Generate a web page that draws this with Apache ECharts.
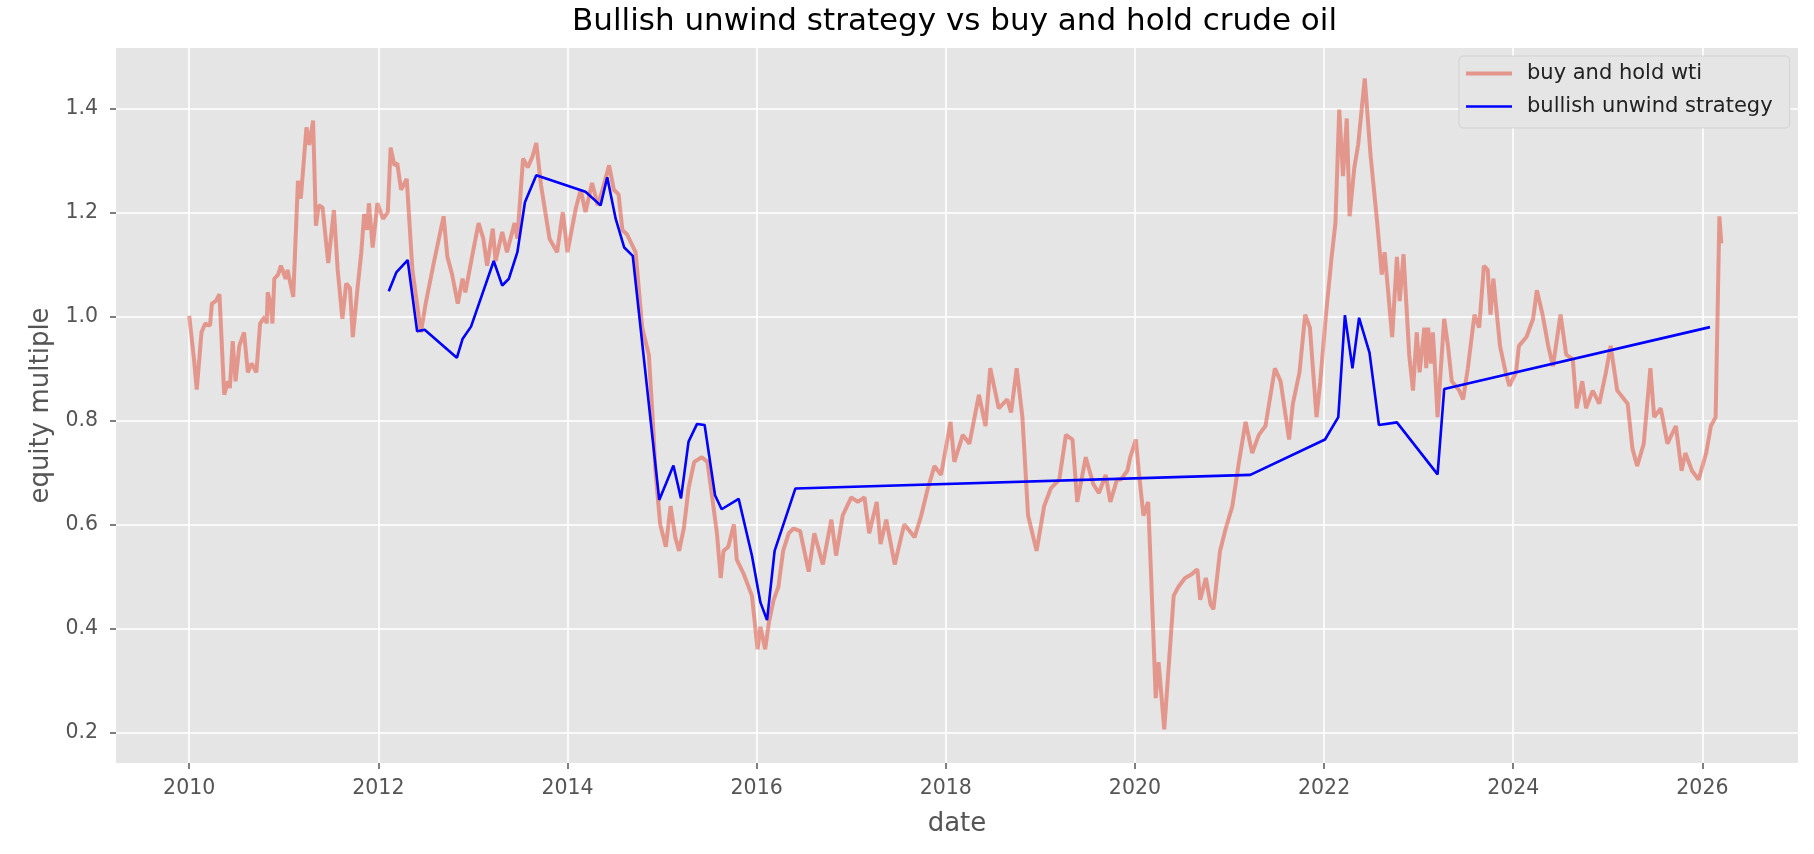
<!DOCTYPE html>
<html>
<head>
<meta charset="utf-8">
<script src="https://cdn.jsdelivr.net/npm/echarts@6/dist/echarts.min.js"></script>
<style>
html,body{margin:0;padding:0;background:#fff;}
#chart{width:1814px;height:854px;}
</style>
</head>
<body>
<div id="chart"></div>
<script>
// x values are decimal years (date axis)
const wtiYears = [
2010.00,2010.05,2010.08,2010.13,2010.17,2010.22,2010.24,2010.28,2010.32,2010.37,2010.41,2010.43,2010.46,2010.49,2010.53,2010.58,2010.62,2010.66,2010.71,2010.75,
2010.80,2010.82,2010.83,2010.86,2010.88,2010.90,2010.94,2010.97,2011.02,2011.04,2011.10,2011.15,2011.18,2011.24,2011.27,2011.31,2011.34,2011.37,2011.41,2011.47,
2011.53,2011.57,2011.62,2011.66,2011.70,2011.73,2011.78,2011.82,2011.85,2011.88,2011.90,2011.94,2011.99,2012.05,2012.10,2012.13,2012.17,2012.20,2012.24,2012.30,
2012.36,2012.45,2012.50,2012.59,2012.64,2012.69,2012.73,2012.78,2012.84,2012.89,2012.92,2013.00,2013.06,2013.11,2013.15,2013.21,2013.24,2013.31,2013.36,2013.44,
2013.47,2013.53,2013.58,2013.63,2013.67,2013.72,2013.81,2013.89,2013.95,2014.00,2014.09,2014.14,2014.19,2014.26,2014.32,2014.37,2014.44,2014.49,2014.54,2014.58,
2014.63,2014.72,2014.79,2014.86,2014.90,2014.93,2014.98,2015.04,2015.09,2015.14,2015.18,2015.23,2015.28,2015.34,2015.42,2015.48,2015.53,2015.58,2015.62,2015.65,
2015.70,2015.76,2015.79,2015.86,2015.95,2016.01,2016.04,2016.09,2016.13,2016.18,2016.23,2016.28,2016.34,2016.39,2016.46,2016.55,2016.61,2016.70,2016.79,2016.84,
2016.91,2017.00,2017.07,2017.14,2017.19,2017.27,2017.31,2017.37,2017.46,2017.56,2017.67,2017.74,2017.81,2017.88,2017.95,2018.05,2018.09,2018.18,2018.25,2018.35,
2018.42,2018.47,2018.56,2018.65,2018.69,2018.75,2018.81,2018.87,2018.96,2019.04,2019.11,2019.20,2019.27,2019.34,2019.39,2019.48,2019.56,2019.62,2019.69,2019.74,
2019.81,2019.85,2019.92,2019.95,2020.01,2020.04,2020.09,2020.14,2020.17,2020.22,2020.25,2020.31,2020.36,2020.41,2020.46,2020.53,2020.60,2020.66,2020.69,2020.75,
2020.80,2020.83,2020.90,2020.96,2021.03,2021.10,2021.17,2021.24,2021.31,2021.38,2021.48,2021.54,2021.63,2021.67,2021.74,2021.80,2021.85,2021.92,2021.96,2022.02,
2022.08,2022.12,2022.16,2022.20,2022.24,2022.27,2022.32,2022.36,2022.43,2022.49,2022.56,2022.61,2022.64,2022.72,2022.77,2022.80,2022.84,2022.90,2022.94,2022.98,
2023.01,2023.06,2023.08,2023.10,2023.13,2023.15,2023.17,2023.20,2023.27,2023.31,2023.35,2023.43,2023.47,2023.52,2023.59,2023.64,2023.69,2023.73,2023.76,2023.79,
2023.86,2023.92,2023.96,2024.03,2024.06,2024.14,2024.21,2024.25,2024.31,2024.37,2024.42,2024.50,2024.56,2024.63,2024.67,2024.73,2024.77,2024.84,2024.91,2024.98,
2025.03,2025.10,2025.21,2025.26,2025.31,2025.38,2025.45,2025.49,2025.56,2025.63,2025.72,2025.78,2025.82,2025.89,2025.96,2026.04,2026.09,2026.14,2026.18,2026.20
];
const wtiValues = [
1.002,0.920,0.860,0.970,0.987,0.983,1.025,1.030,1.043,0.850,0.876,0.863,0.953,0.876,0.944,0.970,0.893,0.910,0.893,0.987,
1.000,0.987,1.047,1.025,0.987,1.073,1.081,1.098,1.073,1.090,1.038,1.261,1.227,1.364,1.330,1.377,1.175,1.214,1.210,1.103,
1.205,1.090,0.996,1.064,1.055,0.961,1.055,1.124,1.197,1.167,1.218,1.133,1.218,1.188,1.201,1.325,1.291,1.295,1.244,1.265,
1.090,0.970,1.025,1.107,1.150,1.193,1.115,1.081,1.025,1.073,1.047,1.124,1.180,1.150,1.098,1.169,1.107,1.163,1.124,1.180,
1.150,1.304,1.287,1.308,1.334,1.253,1.150,1.124,1.201,1.124,1.210,1.244,1.201,1.257,1.214,1.244,1.291,1.244,1.235,1.167,
1.158,1.124,0.979,0.927,0.807,0.704,0.601,0.558,0.636,0.576,0.550,0.593,0.670,0.721,0.730,0.721,0.653,0.584,0.498,0.550,
0.558,0.601,0.533,0.507,0.464,0.361,0.404,0.361,0.413,0.456,0.481,0.550,0.584,0.593,0.588,0.510,0.584,0.524,0.610,0.541,
0.618,0.653,0.644,0.653,0.584,0.644,0.563,0.610,0.524,0.601,0.576,0.618,0.670,0.713,0.696,0.798,0.721,0.773,0.756,0.850,
0.790,0.901,0.824,0.841,0.816,0.901,0.807,0.618,0.550,0.636,0.670,0.687,0.773,0.764,0.644,0.730,0.678,0.661,0.696,0.644,
0.687,0.687,0.704,0.730,0.764,0.704,0.618,0.644,0.507,0.267,0.336,0.207,0.336,0.464,0.481,0.498,0.505,0.515,0.456,0.498,
0.447,0.438,0.550,0.593,0.636,0.721,0.798,0.738,0.773,0.790,0.901,0.876,0.764,0.833,0.893,1.004,0.979,0.807,0.876,1.004,
1.115,1.180,1.398,1.270,1.381,1.193,1.287,1.330,1.458,1.313,1.184,1.081,1.124,0.961,1.115,1.030,1.120,0.927,0.858,0.970,
0.893,0.979,0.901,0.979,0.910,0.970,0.910,0.807,0.996,0.944,0.876,0.858,0.841,0.901,1.004,0.979,1.098,1.090,1.004,1.073,
0.944,0.893,0.867,0.893,0.944,0.961,0.996,1.051,1.004,0.944,0.905,1.004,0.927,0.918,0.824,0.876,0.824,0.858,0.833,0.893,
0.944,0.858,0.833,0.747,0.713,0.756,0.901,0.807,0.824,0.756,0.790,0.704,0.738,0.704,0.687,0.738,0.790,0.807,1.193,1.141
];
const stratYears = [
2012.11,2012.19,2012.31,2012.41,2012.49,2012.83,2012.89,2012.98,2013.22,2013.31,2013.38,2013.47,2013.55,2013.67,2014.19,2014.35,2014.42,2014.51,2014.60,2014.69,
2014.97,2015.12,2015.20,2015.28,2015.37,2015.45,2015.56,2015.63,2015.81,2015.95,2016.04,2016.11,2016.19,2016.41,2021.22,2022.01,2022.15,2022.22,2022.30,2022.37,
2022.48,2022.58,2022.77,2023.20,2023.27,2026.08
];
const stratValues = [
1.049,1.085,1.109,0.972,0.975,0.921,0.957,0.981,1.107,1.060,1.073,1.124,1.220,1.272,1.240,1.214,1.268,1.188,1.133,1.117,
0.648,0.714,0.651,0.760,0.794,0.792,0.657,0.630,0.650,0.541,0.451,0.417,0.550,0.670,0.696,0.764,0.807,1.003,0.901,0.998,
0.931,0.792,0.797,0.697,0.861,0.980
];
const xTickYears = [2010,2012,2014,2016,2018,2020,2022,2024,2026];
const yTickValues = [0.2,0.4,0.6,0.8,1.0,1.2,1.4];
const seriesNames = ['buy and hold wti','bullish unwind strategy'];
const titleText = 'Bullish unwind strategy vs buy and hold crude oil';

const FONT = 'DejaVu Sans';
// legend line icons (thin band inside a 46x20 box; tiny corner specks fix the box)
const iconThick = 'path://M0,0h0.01v0.01h-0.01z M0,8h46v4h-46z M45.99,19.99h0.01v0.01h-0.01z';
const iconThin = 'path://M0,0h0.01v0.01h-0.01z M0,8.7h46v2.6h-46z M45.99,19.99h0.01v0.01h-0.01z';

const chart = echarts.init(document.getElementById('chart'), null, {renderer:'canvas'});
chart.setOption({
  animation: false,
  backgroundColor: '#ffffff',
  textStyle: {fontFamily: FONT},
  title: {
    text: titleText, left: 572, top: 6, padding: 0,
    textStyle: {fontFamily: FONT, fontSize: 31, fontWeight: 'normal', color: '#000'}
  },
  legend: {
    orient: 'vertical', left: 1459, top: 56,
    padding: [7, 17, 11, 7],
    itemWidth: 46, itemHeight: 20, itemGap: 12,
    backgroundColor: '#E5E5E5', borderColor: 'rgba(204,204,204,0.7)', borderWidth: 1, borderRadius: 4,
    textStyle: {fontFamily: FONT, fontSize: 21, color: '#222', padding: [0,0,0,10]},
    data: [
      {name: seriesNames[0], icon: iconThick, itemStyle: {color: '#E24A33', opacity: 0.5}},
      {name: seriesNames[1], icon: iconThin, itemStyle: {color: '#0000FF', opacity: 1}}
    ]
  },
  grid: {left: 116, right: 16, top: 48, bottom: 91, show: true, backgroundColor: '#E5E5E5', borderWidth: 0},
  xAxis: {
    type: 'value', min: 2009.226, max: 2027.011,
    name: 'date', nameLocation: 'middle', nameGap: 48,
    nameTextStyle: {fontFamily: FONT, fontSize: 26, color: '#555'},
    axisLine: {show: false},
    axisTick: {show: true, customValues: xTickYears, length: 6, lineStyle: {color: '#555', width: 1.5}},
    axisLabel: {customValues: xTickYears, formatter: v => String(Math.round(v)), color: '#555', fontSize: 20.5, fontFamily: FONT, margin: 15},
    splitLine: {show: true, lineStyle: {color: '#ffffff', width: 1.6}}
  },
  yAxis: {
    type: 'value', min: 0.1424, max: 1.5164,
    name: 'equity multiple', nameLocation: 'middle', nameGap: 61,
    nameTextStyle: {fontFamily: FONT, fontSize: 26, color: '#555'},
    axisLine: {show: false},
    axisTick: {show: true, customValues: yTickValues, length: 6, lineStyle: {color: '#555', width: 1.5}},
    axisLabel: {customValues: yTickValues, formatter: v => v.toFixed(1), color: '#555', fontSize: 20.5, fontFamily: FONT, margin: 18},
    splitLine: {show: true, lineStyle: {color: '#ffffff', width: 1.6}}
  },
  series: [
    {
      name: seriesNames[0], type: 'line', showSymbol: false, symbol: 'none',
      data: wtiYears.map((x, i) => [x, wtiValues[i]]),
      lineStyle: {color: '#E24A33', width: 4, opacity: 0.5},
      itemStyle: {color: '#E24A33', opacity: 0.5},
      z: 2
    },
    {
      name: seriesNames[1], type: 'line', showSymbol: false, symbol: 'none',
      data: stratYears.map((x, i) => [x, stratValues[i]]),
      lineStyle: {color: '#0000FF', width: 2.6},
      itemStyle: {color: '#0000FF'},
      z: 3
    }
  ]
});
</script>
</body>
</html>
